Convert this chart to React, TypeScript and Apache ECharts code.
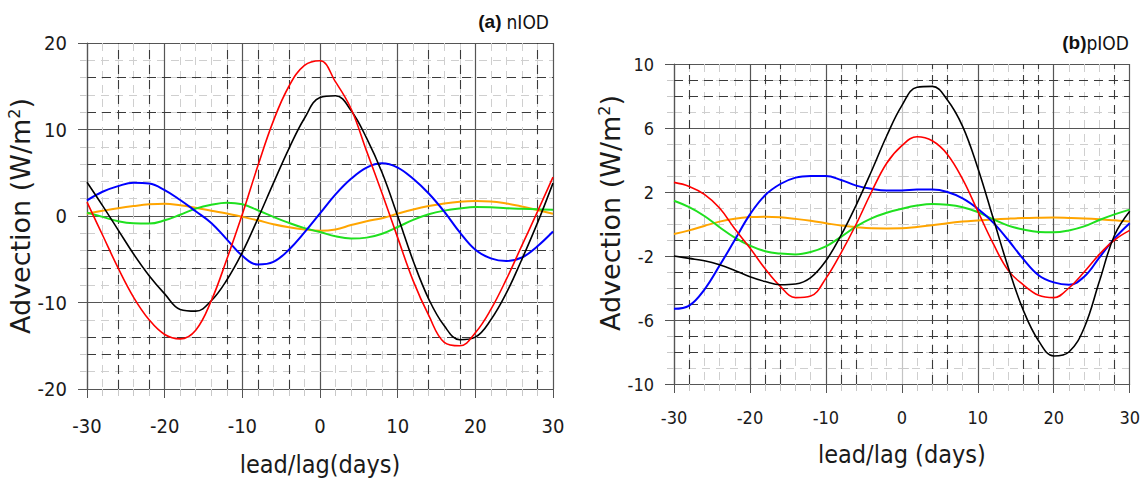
import React, { useEffect, useRef } from "react";
import * as echarts from "echarts";

// lead/lag days
const DAYS = [-30, -28, -26, -24, -22, -20, -18, -16, -14, -12, -10, -8, -6, -4, -2, 0, 2, 4, 6, 8, 10, 12, 14, 16, 18, 20, 22, 24, 26, 28, 30];

// (a) nIOD
const A_RED = [1.6, -2.2, -6.0, -9.4, -12.0, -13.7, -14.2, -13.2, -9.8, -5.0, 0.2, 5.8, 11.0, 15.0, 17.4, 17.95, 15.5, 12.4, 7.5, 2.6, -2.5, -7.5, -11.5, -14.6, -15.0, -13.5, -10.8, -7.3, -3.4, 0.5, 4.5];
const A_BLACK = [3.9, 1.2, -1.6, -4.4, -6.9, -9.0, -10.8, -11.0, -9.8, -7.4, -4.2, -0.3, 3.8, 7.8, 11.3, 13.7, 13.9, 12.2, 9.0, 5.0, 0.0, -5.2, -9.6, -12.7, -14.3, -14.0, -12.0, -8.9, -5.0, -0.8, 3.8];
const A_BLUE = [1.8, 2.8, 3.45, 3.85, 3.75, 3.0, 1.85, 0.55, -0.8, -2.7, -4.6, -5.6, -5.3, -3.9, -1.9, 0.3, 2.5, 4.3, 5.6, 6.1, 5.6, 4.3, 2.6, 0.5, -1.9, -3.9, -4.9, -5.2, -4.8, -3.5, -1.8];
const A_GREEN = [0.39, -0.1, -0.6, -0.85, -0.88, -0.5, 0.15, 0.85, 1.3, 1.54, 1.35, 0.66, -0.1, -0.8, -1.4, -1.85, -2.35, -2.6, -2.5, -2.05, -1.27, -0.45, 0.2, 0.62, 0.88, 1.04, 1.0, 0.9, 0.83, 0.77, 0.73];
const A_ORANGE = [0.27, 0.6, 0.9, 1.15, 1.35, 1.43, 1.25, 0.95, 0.6, 0.3, -0.1, -0.5, -0.95, -1.3, -1.55, -1.7, -1.55, -1.05, -0.6, -0.25, 0.27, 0.75, 1.15, 1.45, 1.65, 1.72, 1.68, 1.45, 1.1, 0.7, 0.25];

// (b) pIOD
const B_RED = [2.6, 2.35, 1.85, 1.0, -0.3, -1.5, -2.8, -3.9, -4.6, -4.5, -3.4, -1.8, 0.0, 2.0, 3.8, 4.9, 5.45, 5.2, 4.35, 2.8, 0.8, -1.2, -2.9, -3.8, -4.45, -4.6, -4.0, -3.0, -1.9, -1.0, -0.4];
const B_BLACK = [-2.0, -2.15, -2.3, -2.55, -2.9, -3.3, -3.6, -3.8, -3.75, -3.35, -2.3, -0.7, 1.2, 3.3, 5.5, 7.4, 8.55, 8.6, 7.75, 6.1, 3.5, 0.4, -2.7, -5.4, -7.3, -8.25, -8.0, -6.5, -3.6, -0.7, 0.8];
const B_BLUE = [-5.3, -5.1, -4.1, -2.6, -1.0, 0.6, 1.8, 2.5, 2.9, 3.0, 3.0, 2.75, 2.4, 2.2, 2.1, 2.1, 2.15, 2.15, 2.0, 1.6, 0.95, 0.1, -1.0, -2.2, -3.2, -3.65, -3.8, -3.3, -2.1, -0.9, 0.05];
const B_GREEN = [1.45, 1.05, 0.5, -0.2, -0.85, -1.35, -1.7, -1.85, -1.9, -1.75, -1.4, -0.8, -0.15, 0.35, 0.7, 0.95, 1.15, 1.25, 1.2, 1.05, 0.75, 0.3, -0.1, -0.35, -0.5, -0.52, -0.4, -0.15, 0.25, 0.6, 0.9];
const B_ORANGE = [-0.62, -0.4, -0.12, 0.15, 0.33, 0.43, 0.46, 0.42, 0.32, 0.2, 0.05, -0.1, -0.2, -0.27, -0.28, -0.27, -0.18, -0.08, 0.05, 0.15, 0.22, 0.28, 0.33, 0.37, 0.39, 0.4, 0.38, 0.35, 0.3, 0.23, 0.15];

// darker dashed grid lines
const A_VDASH = [-26, -22, -12, -8, -4, 14, 18, 28];
const A_HDASH = [16, 12, 6, -4, -6, -14, -16];
const B_VDASH = [-28, -18, -16, -8, -6, 4, 6, 16, 18, 28];
const B_HDASH = [9, 8, -1, -3, -4, -5, -7, -8];

const NARROW = "'Liberation Sans Narrow', 'DejaVu Sans Condensed', 'Liberation Sans', sans-serif";
const WIDE = "'DejaVu Sans', 'Liberation Sans', sans-serif";

const MAJOR = "#555";
const MINOR = "#cfcfcf";

function line(values: number[], grid: number, color: string, width: number, extra: any = {}) {
  return {
    type: "line",
    xAxisIndex: grid * 2,
    yAxisIndex: grid * 2,
    data: DAYS.map((d, i) => [d, values[i]]),
    smooth: 0.4,
    symbol: "none",
    showSymbol: false,
    silent: true,
    z: 10,
    lineStyle: { color, width },
    ...extra,
  };
}

function dashLines(v: number[], h: number[]) {
  return {
    silent: true,
    symbol: ["none", "none"],
    label: { show: false },
    animation: false,
    lineStyle: { color: "#3a3a3a", type: [9, 6], width: 1.1 },
    data: [...v.map((x) => ({ xAxis: x })), ...h.map((y) => ({ yAxis: y }))],
  };
}

function xMain(grid: number, name: string, fontSize: number, margin: number, nameGap: number, splitColors: any) {
  return {
    gridIndex: grid,
    type: "value",
    min: -30,
    max: 30,
    interval: 10,
    position: "bottom",
    axisLine: { show: true, onZero: false, lineStyle: { color: MAJOR, width: 1.2 } },
    axisTick: { show: true, inside: false, length: 9, lineStyle: { color: MAJOR } },
    minorTick: { show: true, splitNumber: 5, length: 7, lineStyle: { color: "#c8c8c8" } },
    axisLabel: { margin, fontSize, color: "#1a1a1a", fontFamily: NARROW },
    splitLine: { show: true, lineStyle: { color: splitColors, width: 1.2 } },
    minorSplitLine: { show: true, lineStyle: { color: MINOR, type: [8, 6], width: 1 } },
    name,
    nameLocation: "middle",
    nameGap,
    nameTextStyle: { fontSize: 25, color: "#1a1a1a", fontFamily: NARROW },
  };
}

function xTop(grid: number) {
  return {
    gridIndex: grid,
    type: "value",
    min: -30,
    max: 30,
    interval: 10,
    position: "top",
    axisLine: { show: false },
    axisLabel: { show: false },
    axisTick: { show: true, length: 12, lineStyle: { color: MAJOR } },
    minorTick: { show: true, splitNumber: 5, length: 8, lineStyle: { color: "#c8c8c8" } },
    splitLine: { show: false },
  };
}

function yMain(grid: number, min: number, max: number, interval: number, minorSplit: number, fontSize: number, padding: number[]) {
  return {
    gridIndex: grid,
    type: "value",
    min,
    max,
    interval,
    position: "left",
    axisLine: { show: true, onZero: false, lineStyle: { color: MAJOR, width: 1.2 } },
    axisTick: { show: true, inside: false, length: 9, lineStyle: { color: MAJOR } },
    minorTick: { show: true, splitNumber: minorSplit, length: 7, lineStyle: { color: "#c8c8c8" } },
    axisLabel: { margin: 20, fontSize, color: "#1a1a1a", fontFamily: NARROW },
    splitLine: { show: true, lineStyle: { color: MAJOR, width: 1.2 } },
    minorSplitLine: { show: true, lineStyle: { color: MINOR, type: [8, 6], width: 1 } },
    name: "{t|Advection (W/m}{s|2}{t|)}",
    nameLocation: "middle",
    nameGap: 44,
    nameTextStyle: {
      padding,
      rich: {
        t: { fontSize: 27, fontFamily: WIDE, color: "#1a1a1a" },
        s: { fontSize: 16, fontFamily: WIDE, color: "#1a1a1a", verticalAlign: "top" },
      },
    },
  };
}

function yRight(grid: number, min: number, max: number, interval: number, minorSplit: number) {
  return {
    gridIndex: grid,
    type: "value",
    min,
    max,
    interval,
    position: "right",
    axisLine: { show: false },
    axisLabel: { show: false },
    axisTick: { show: true, length: 7, lineStyle: { color: MAJOR } },
    minorTick: { show: true, splitNumber: minorSplit, length: 7, lineStyle: { color: "#c8c8c8" } },
    splitLine: { show: false },
  };
}

const TITLE_RICH = {
  b: { fontSize: 19, fontWeight: "bold", fontFamily: "'Liberation Sans', sans-serif", color: "#111" },
  r: { fontSize: 19, fontWeight: "normal", fontFamily: NARROW, color: "#111" },
};

export default function App() {
  const ref = useRef<HTMLDivElement>(null);

  useEffect(() => {
    if (!ref.current) return;
    const chart = echarts.init(ref.current, null, { renderer: "svg" });
    const option: any = {
      animation: false,
      backgroundColor: "#ffffff",
      title: [
        {
          text: "{b|(a)} {r|nIOD}",
          right: 589,
          top: 7,
          textStyle: { fontWeight: "normal", rich: TITLE_RICH },
        },
        {
          text: "{b|(b)}{r|pIOD}",
          right: 9,
          top: 28,
          textStyle: { fontWeight: "normal", rich: TITLE_RICH },
        },
      ],
      grid: [
        { left: 87, top: 43, width: 466, height: 346 },
        { left: 674, top: 64, width: 459, height: 320 },
      ],
      xAxis: [
        xMain(0, "lead/lag(days)", 20, 27, 63, [MAJOR]),
        xTop(0),
        xMain(1, "lead/lag (days)", 18, 24, 58, [MAJOR, MAJOR, MAJOR, "#c4c4c4", MAJOR, MAJOR, MAJOR]),
        xTop(1),
      ],
      yAxis: [
        yMain(0, -20, 20, 10, 5, 20, [0, 0, 0, 0]),
        yRight(0, -20, 20, 10, 5),
        yMain(1, -10, 10, 4, 4, 18, [0, 0, 0, 22]),
        yRight(1, -10, 10, 4, 4),
      ],
      series: [
        line(A_ORANGE, 0, "#ffa500", 2, { markLine: dashLines(A_VDASH, A_HDASH) }),
        line(A_GREEN, 0, "#1fe01f", 2),
        line(A_BLUE, 0, "#0000ff", 2),
        line(A_BLACK, 0, "#000000", 1.6),
        line(A_RED, 0, "#ff0000", 1.6),
        line(B_ORANGE, 1, "#ffa500", 2, { markLine: dashLines(B_VDASH, B_HDASH) }),
        line(B_GREEN, 1, "#1fe01f", 2),
        line(B_BLUE, 1, "#0000ff", 2),
        line(B_RED, 1, "#ff0000", 1.6),
        line(B_BLACK, 1, "#000000", 1.6),
      ],
    };
    chart.setOption(option);
    return () => chart.dispose();
  }, []);

  return (
    <div
      ref={ref}
      style={{ position: "fixed", left: 0, top: 0, width: 1143, height: 483, background: "#fff" }}
    />
  );
}
